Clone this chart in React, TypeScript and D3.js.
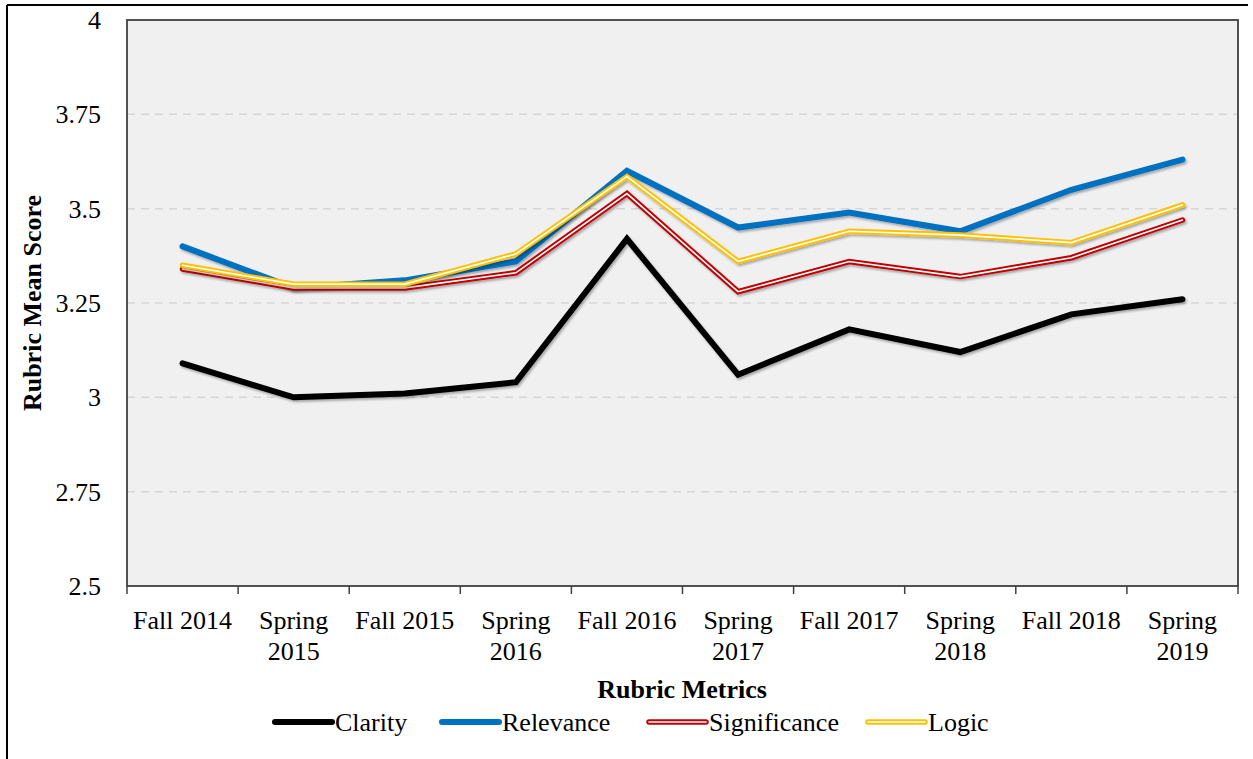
import React from "react";
import * as d3 from "d3";

const categories = [
  "Fall 2014", "Spring 2015", "Fall 2015", "Spring 2016", "Fall 2016",
  "Spring 2017", "Fall 2017", "Spring 2018", "Fall 2018", "Spring 2019",
];
const clarity = [3.09, 3.0, 3.01, 3.04, 3.42, 3.06, 3.18, 3.12, 3.22, 3.26];
const relevance = [3.4, 3.29, 3.31, 3.36, 3.6, 3.45, 3.49, 3.44, 3.55, 3.63];
const significance = [3.34, 3.29, 3.29, 3.33, 3.54, 3.28, 3.36, 3.32, 3.37, 3.47];
const logic = [3.35, 3.3, 3.3, 3.38, 3.585, 3.36, 3.44, 3.43, 3.41, 3.51];
const yTicks = [2.5, 2.75, 3, 3.25, 3.5, 3.75, 4];

const seriesList = [
  { name: "Clarity", values: clarity, color: "#000000", double: false },
  { name: "Relevance", values: relevance, color: "#0070C0", double: false },
  { name: "Significance", values: significance, color: "#C00000", double: true },
  { name: "Logic", values: logic, color: "#FFC000", double: true },
];

const W = 1253;
const H = 759;
const plot = { left: 127, top: 20, right: 1238, bottom: 586 };
const FONT = "'Liberation Serif', serif";
const FS = 26;
const legendX = [275, 442, 649, 868];

export default function App() {
  const x = d3.scaleBand<string>().domain(categories).range([plot.left, plot.right]);
  const y = d3.scaleLinear().domain([2.5, 4]).range([plot.bottom, plot.top]);
  const line = d3
    .line<number>()
    .x((_, i) => (x(categories[i]) as number) + x.bandwidth() / 2)
    .y((v) => y(v));

  const renderSeries = (s: typeof seriesList[number]) => {
    const d = line(s.values) || "";
    if (s.double) {
      return (
        <g key={s.name} filter="url(#shadow)">
          <path d={d} fill="none" stroke={s.color} strokeWidth={5.5} strokeLinecap="round" strokeLinejoin="miter" />
          <path d={d} fill="none" stroke="#ffffff" strokeWidth={1.6} strokeLinecap="round" strokeLinejoin="miter" />
        </g>
      );
    }
    return (
      <path key={s.name} d={d} fill="none" stroke={s.color} strokeWidth={6} strokeLinecap="round" strokeLinejoin="miter" filter="url(#shadow)" />
    );
  };

  const boundaries = [...categories.map((c) => x(c) as number), plot.right];

  return (
    <svg width={W} height={H} style={{ position: "absolute", left: 0, top: 0, background: "#fff" }} fontFamily={FONT}>
      <defs>
        <filter id="shadow" x="-5%" y="-20%" width="110%" height="140%">
          <feDropShadow dx="1.5" dy="2" stdDeviation="1.2" floodColor="#000" floodOpacity="0.3" />
        </filter>
      </defs>
      {/* outer frame */}
      <line x1={7} y1={5} x2={1248} y2={5} stroke="#000" strokeWidth={2} />
      <line x1={7} y1={5} x2={7} y2={H} stroke="#000" strokeWidth={2} />

      {/* plot area */}
      <rect x={plot.left} y={plot.top} width={plot.right - plot.left} height={plot.bottom - plot.top} fill="#F0F0F0" />
      {yTicks.filter((t) => t > 2.5 && t < 4).map((t) => (
        <line key={t} x1={plot.left} x2={plot.right} y1={y(t)} y2={y(t)} stroke="#D6D6D6" strokeWidth={1.5} strokeDasharray="8,6" />
      ))}
      <rect x={plot.left} y={plot.top} width={plot.right - plot.left} height={plot.bottom - plot.top} fill="none" stroke="#404040" strokeWidth={1.8} />

      {/* x ticks */}
      {boundaries.map((bx, i) => (
        <line key={i} x1={bx} x2={bx} y1={plot.bottom} y2={plot.bottom + 8} stroke="#404040" strokeWidth={1.5} />
      ))}

      {/* y labels */}
      {yTicks.map((t) => (
        <text key={t} x={101} y={y(t) + 9} textAnchor="end" fontSize={FS} fill="#000">
          {String(t)}
        </text>
      ))}

      {/* x labels */}
      {categories.map((c) => {
        const cx = (x(c) as number) + x.bandwidth() / 2;
        const parts = c.startsWith("Spring") ? c.split(" ") : [c];
        return (
          <text key={c} x={cx} y={629} textAnchor="middle" fontSize={FS} fill="#000">
            {parts.map((p, i) => (
              <tspan key={i} x={cx} dy={i === 0 ? 0 : 31}>
                {p}
              </tspan>
            ))}
          </text>
        );
      })}

      {/* series */}
      {seriesList.map(renderSeries)}

      {/* axis titles */}
      <text x={682} y={698} textAnchor="middle" fontSize={FS} fontWeight="bold" fill="#000">
        Rubric Metrics
      </text>
      <text transform={`translate(41, ${(plot.top + plot.bottom) / 2}) rotate(-90)`} textAnchor="middle" fontSize={FS} fontWeight="bold" fill="#000">
        Rubric Mean Score
      </text>

      {/* legend */}
      {seriesList.map((s, i) => {
        const lx = legendX[i];
        const ly = 722;
        return (
          <g key={s.name}>
            {s.double ? (
              <>
                <line x1={lx} x2={lx + 57} y1={ly} y2={ly} stroke={s.color} strokeWidth={5.5} strokeLinecap="round" />
                <line x1={lx} x2={lx + 57} y1={ly} y2={ly} stroke="#fff" strokeWidth={1.6} strokeLinecap="round" />
              </>
            ) : (
              <line x1={lx} x2={lx + 57} y1={ly} y2={ly} stroke={s.color} strokeWidth={6} strokeLinecap="round" />
            )}
            <text x={lx + 60} y={ly + 9} fontSize={FS} fill="#000">
              {s.name}
            </text>
          </g>
        );
      })}
    </svg>
  );
}
